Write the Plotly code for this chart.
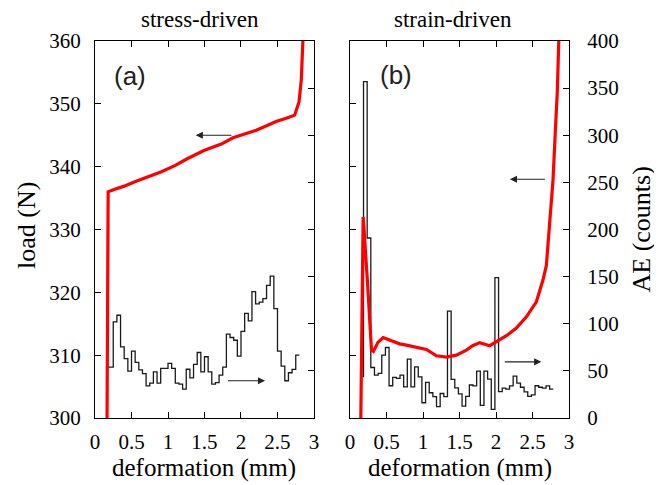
import plotly.graph_objects as go

# ---------------- data ----------------
# (a) stress-driven: load curve (N) vs deformation (mm)
load_a_x = [0.165, 0.168, 0.172, 0.176, 0.18, 0.27, 0.40, 0.545, 0.70, 0.91, 1.10, 1.27, 1.50, 1.73,
            1.89, 2.05, 2.21, 2.35, 2.48, 2.62, 2.735, 2.795, 2.826, 2.848]
load_a_y = [300.0, 312.0, 324.0, 333.0, 336.0, 336.4, 336.9, 337.6, 338.3, 339.2, 340.2, 341.3, 342.6, 343.6,
            344.6, 345.2, 345.8, 346.5, 347.2, 347.7, 348.2, 350.3, 353.8, 360.0]

# (a) AE histogram (counts per bin)
ae_a_first_edge = 0.166
ae_a_bin_start = 0.25
ae_bin_width = 0.05
ae_a_counts = [54, 102, 109, 75.5, 63, 49.7, 71, 59, 51, 47,
               34, 37, 49, 37, 52.6, 52.6, 58, 52.6, 37, 36,
               30.7, 51.7, 42.5, 57, 69.5, 49, 65, 49, 36, 37.5,
               45.5, 54, 89, 85.4, 82.5, 65.6, 92, 111, 103, 134,
               121, 123, 126.6, 140.7, 150.6, 116, 71, 55, 39.5, 48,
               51.5, 66.7]

# (b) strain-driven: load curve (N) vs deformation (mm)
load_b_x = [0.148, 0.155, 0.163, 0.172, 0.18, 0.19, 0.20, 0.22, 0.24, 0.255, 0.27, 0.294, 0.32, 0.38,
            0.453, 0.52, 0.59, 0.68, 0.773, 0.84, 0.91, 1.047, 1.184, 1.25, 1.32, 1.457, 1.594, 1.68,
            1.777, 1.914, 2.005, 2.142, 2.279, 2.416, 2.553, 2.644, 2.69, 2.745, 2.781, 2.818, 2.84, 2.86]
load_b_y = [300.0, 310.0, 320.0, 328.0, 332.0, 330.5, 328.0, 325.0, 321.5, 318.0, 315.1, 310.8, 310.6, 312.0,
            312.8, 312.5, 312.1, 311.8, 311.6, 311.4, 311.25, 310.9, 309.9, 309.8, 309.7, 310.0, 310.8, 311.5,
            312.0, 311.5, 312.1, 313.1, 314.3, 316.1, 318.5, 322.0, 324.3, 333.6, 337.9, 346.9, 352.0, 360.0]

# (b) AE histogram (counts per bin)
ae_b_first_edge = 0.162
ae_b_bin_start = 0.185
ae_b_counts = [44, 357, 191, 53.6, 45.5, 47.3, 66.7, 74.8, 34.2, 43,
               42, 45.5, 33, 62.4, 33, 54.3, 43.7, 16.2, 37.8, 26.8,
               22.6, 12, 26, 22.6, 113.5, 41, 32, 25.5, 12.7, 23,
               35, 34, 49.7, 13.4, 49.7, 41.3, 9.2, 148.9, 27.9, 31.8,
               30.7, 34, 44.4, 37, 32.6, 27.7, 23, 24.5, 34.2, 32.6,
               31.7, 34, 30.7]

x_ticks = [0, 0.5, 1, 1.5, 2, 2.5, 3]
load_ticks = [300, 310, 320, 330, 340, 350, 360]
ae_ticks = [0, 50, 100, 150, 200, 250, 300, 350, 400]

panel_titles = ["stress-driven", "strain-driven"]
panel_tags = ["(a)", "(b)"]


def edges(first, start, n):
    return [first] + [round(start + ae_bin_width * k, 4) for k in range(n)]


ae_a_x = edges(ae_a_first_edge, ae_a_bin_start, len(ae_a_counts))
ae_b_x = edges(ae_b_first_edge, ae_b_bin_start, len(ae_b_counts))

SERIF = "Liberation Serif"
SANS = "Liberation Sans"
TICKFONT = dict(family=SERIF, size=21, color="black")

fig = go.Figure()

# histograms on base (AE) axes
fig.add_trace(go.Scatter(x=ae_a_x, y=ae_a_counts + [ae_a_counts[-1]], mode="lines", line_shape="hv",
                         line=dict(color="#1a1a1a", width=1.3), xaxis="x", yaxis="y", showlegend=False))
fig.add_trace(go.Scatter(x=ae_b_x, y=ae_b_counts + [ae_b_counts[-1]], mode="lines", line_shape="hv",
                         line=dict(color="#1a1a1a", width=1.3), xaxis="x2", yaxis="y3", showlegend=False))
# load curves on overlaying (load) axes
fig.add_trace(go.Scatter(x=load_a_x, y=load_a_y, mode="lines",
                         line=dict(color="#ff0000", width=3.2), xaxis="x", yaxis="y2", showlegend=False))
fig.add_trace(go.Scatter(x=load_b_x, y=load_b_y, mode="lines",
                         line=dict(color="#ff0000", width=3.2), xaxis="x2", yaxis="y4", showlegend=False))

common_x = dict(range=[0, 3], tickvals=x_ticks, ticktext=[f"{t:g}" for t in x_ticks], ticks="inside",
                ticklen=6, tickcolor="black", showline=True, linecolor="black", linewidth=1.3,
                mirror="ticks", showgrid=False, zeroline=False, tickfont=TICKFONT, ticklabelstandoff=5)
common_ae = dict(range=[0, 400], tickvals=ae_ticks, ticks="inside", ticklen=6, tickcolor="black",
                 showline=True, linecolor="black", linewidth=1.3, showgrid=False, zeroline=False,
                 tickfont=TICKFONT, side="right")
common_load = dict(range=[300, 360], tickvals=load_ticks, ticks="inside", ticklen=6, tickcolor="black",
                   showline=True, linecolor="black", linewidth=1.3, showgrid=False, zeroline=False,
                   tickfont=TICKFONT, side="left")

# page body has an 8px margin: shrink the figure so the plot areas land where the reference has them
fig.update_layout(
    width=654, height=477,
    margin=dict(l=87, r=93, t=33, b=67),
    paper_bgcolor="white", plot_bgcolor="white",
    xaxis=dict(domain=[0, 0.462], anchor="y", **common_x),
    yaxis=dict(anchor="x", showticklabels=False, **common_ae),
    yaxis2=dict(anchor="x", overlaying="y", ticklabelstandoff=9, **common_load),
    xaxis2=dict(domain=[0.538, 1], anchor="y3", **common_x),
    yaxis3=dict(anchor="x2", ticklabelstandoff=13, **common_ae),
    yaxis4=dict(anchor="x2", overlaying="y3", showticklabels=False, **common_load),
)

annotations = []
# axis titles
annotations.append(dict(text="load (N)", xref="paper", yref="paper", x=-0.143, y=0.51, textangle=-90,
                        xanchor="center", yanchor="middle", showarrow=False,
                        font=dict(family=SERIF, size=26, color="black")))
annotations.append(dict(text="AE (counts)", xref="paper", yref="paper", x=1.154, y=0.50, textangle=-90,
                        xanchor="center", yanchor="middle", showarrow=False,
                        font=dict(family=SERIF, size=26, color="black")))
for xc in [0.231, 0.769]:
    annotations.append(dict(text="deformation (mm)", xref="paper", yref="paper", x=xc, y=-0.133,
                            showarrow=False, xanchor="center", yanchor="middle",
                            font=dict(family=SERIF, size=25, color="black")))
# panel titles
for xc, t in zip([0.221, 0.755], panel_titles):
    annotations.append(dict(text=t, xref="paper", yref="paper", x=xc, y=1.056, xanchor="center",
                            yanchor="middle", showarrow=False, font=dict(family=SERIF, size=23, color="black")))
# panel tags
annotations.append(dict(text=panel_tags[0], xref="paper", yref="paper", x=0.074, y=0.907, showarrow=False,
                        xanchor="center", yanchor="middle", font=dict(family=SANS, size=26, color="#222")))
annotations.append(dict(text=panel_tags[1], xref="paper", yref="paper", x=0.634, y=0.910, showarrow=False,
                        xanchor="center", yanchor="middle", font=dict(family=SANS, size=26, color="#222")))
# arrows
arrow = dict(showarrow=True, arrowhead=2, arrowsize=1.3, arrowwidth=1.1, arrowcolor="#222", text="")
annotations.append(dict(x=1.38, y=345.0, ax=1.89, ay=345.0, xref="x", yref="y2", axref="x", ayref="y2", **arrow))
annotations.append(dict(x=2.33, y=39.5, ax=1.80, ay=39.5, xref="x", yref="y", axref="x", ayref="y", **arrow))
annotations.append(dict(x=2.19, y=338.0, ax=2.69, ay=338.0, xref="x2", yref="y4", axref="x2", ayref="y4", **arrow))
annotations.append(dict(x=2.62, y=59.6, ax=2.10, ay=59.6, xref="x2", yref="y3", axref="x2", ayref="y3", **arrow))

fig.update_layout(annotations=annotations)

fig.write_html("out.html")
